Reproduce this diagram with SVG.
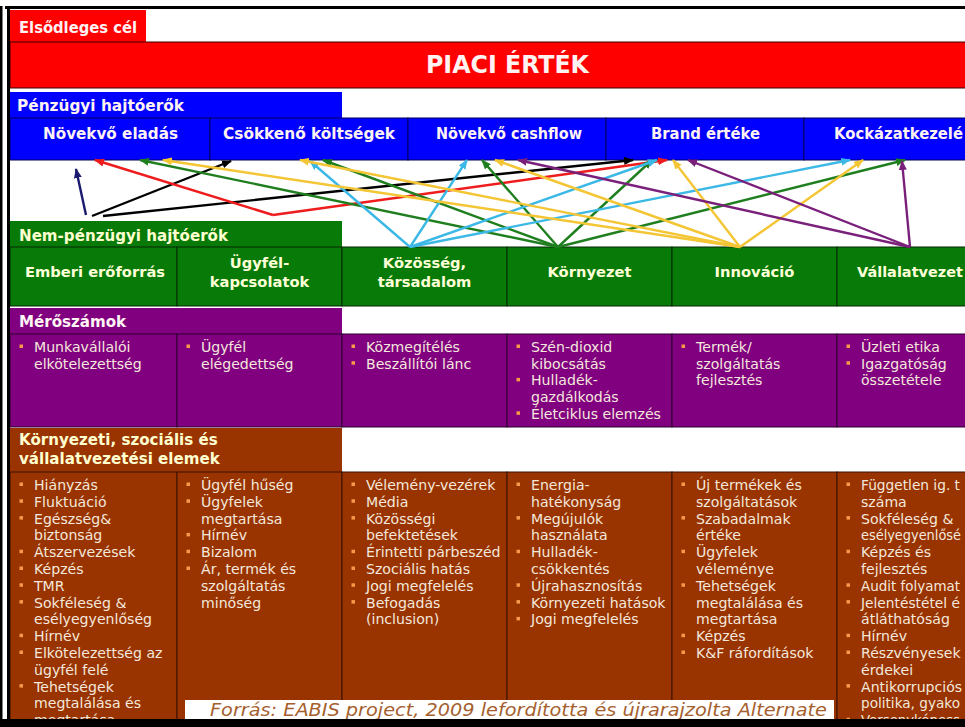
<svg xmlns="http://www.w3.org/2000/svg" width="965" height="727" viewBox="0 0 965 727">
<defs>
<style>
.cond{font-family:"DejaVu Sans Condensed","DejaVu Sans",sans-serif;font-weight:bold;fill:#FFF2F2}
.hdr{font-family:"DejaVu Sans",Verdana,sans-serif;font-weight:bold;font-size:15.1px;fill:#FFFFD0}
.cell{font-family:"DejaVu Sans",Verdana,sans-serif;font-weight:bold;font-size:14.7px;fill:#FFFFD8;text-anchor:middle}
.body{font-family:"DejaVu Sans",Verdana,sans-serif;font-size:14.1px;fill:#F4E8DC}
.bul{fill:#F59A4A}
.arr{fill:none;stroke-width:2.4}
.src{font-family:"DejaVu Sans",Verdana,sans-serif;font-style:italic;font-size:17px;fill:#A5602E}
</style>
<marker id="mk-navy" viewBox="0 0 10 8" refX="9" refY="4" markerWidth="10" markerHeight="8" markerUnits="userSpaceOnUse" orient="auto"><path d="M0,0 L10,4 L0,8 z" fill="#1A1A6E"/></marker>
<marker id="mk-black" viewBox="0 0 10 8" refX="9" refY="4" markerWidth="10" markerHeight="8" markerUnits="userSpaceOnUse" orient="auto"><path d="M0,0 L10,4 L0,8 z" fill="#000"/></marker>
<marker id="mk-red" viewBox="0 0 10 8" refX="9" refY="4" markerWidth="10" markerHeight="8" markerUnits="userSpaceOnUse" orient="auto"><path d="M0,0 L10,4 L0,8 z" fill="#EE1C1C"/></marker>
<marker id="mk-green" viewBox="0 0 10 8" refX="9" refY="4" markerWidth="10" markerHeight="8" markerUnits="userSpaceOnUse" orient="auto"><path d="M0,0 L10,4 L0,8 z" fill="#1F7F1F"/></marker>
<marker id="mk-cyan" viewBox="0 0 10 8" refX="9" refY="4" markerWidth="10" markerHeight="8" markerUnits="userSpaceOnUse" orient="auto"><path d="M0,0 L10,4 L0,8 z" fill="#3CB8E6"/></marker>
<marker id="mk-yellow" viewBox="0 0 10 8" refX="9" refY="4" markerWidth="10" markerHeight="8" markerUnits="userSpaceOnUse" orient="auto"><path d="M0,0 L10,4 L0,8 z" fill="#F4C534"/></marker>
<marker id="mk-purple" viewBox="0 0 10 8" refX="9" refY="4" markerWidth="10" markerHeight="8" markerUnits="userSpaceOnUse" orient="auto"><path d="M0,0 L10,4 L0,8 z" fill="#7A1F7A"/></marker>
</defs>

<rect x="0" y="0" width="965" height="727" fill="#FFFFFF"/>

<!-- Primary goal -->
<g id="primary-tab">
<rect x="10" y="10" width="136" height="32" fill="#FF0000"/>
<text class="cond" x="19" y="33" font-size="16" textLength="118" lengthAdjust="spacingAndGlyphs">Elsődleges cél</text>
</g>
<g id="piaci-ertek">
<rect x="10" y="42" width="956" height="46" fill="#FF0000" stroke="#3a0000" stroke-width="1"/>
<text class="cond" x="426" y="73" font-size="24" textLength="163" lengthAdjust="spacingAndGlyphs">PIACI ÉRTÉK</text>
</g>

<!-- Financial drivers -->
<g id="financial-tab">
<rect x="10" y="92" width="332" height="26" fill="#0000FF"/>
<text class="cond" x="17" y="111" font-size="16" textLength="167" lengthAdjust="spacingAndGlyphs">Pénzügyi hajtóerők</text>
</g>
<g id="fin-novekvo-eladas">
<rect x="10" y="118" width="200" height="42" fill="#0000FF" stroke="#00005A" stroke-width="1"/>
<text class="cond" x="43" y="139" font-size="16.5" textLength="135" lengthAdjust="spacingAndGlyphs">Növekvő eladás</text>
</g>
<g id="fin-csokkeno-koltsegek">
<rect x="210" y="118" width="198" height="42" fill="#0000FF" stroke="#00005A" stroke-width="1"/>
<text class="cond" x="223" y="139" font-size="16.5" textLength="172" lengthAdjust="spacingAndGlyphs">Csökkenő költségek</text>
</g>
<g id="fin-novekvo-cashflow">
<rect x="408" y="118" width="198" height="42" fill="#0000FF" stroke="#00005A" stroke-width="1"/>
<text class="cond" x="436" y="139" font-size="16.5" textLength="146" lengthAdjust="spacingAndGlyphs">Növekvő cashflow</text>
</g>
<g id="fin-brand-erteke">
<rect x="606" y="118" width="198" height="42" fill="#0000FF" stroke="#00005A" stroke-width="1"/>
<text class="cond" x="651" y="139" font-size="16.5" textLength="109" lengthAdjust="spacingAndGlyphs">Brand értéke</text>
</g>
<g id="fin-kockazatkezeles">
<rect x="804" y="118" width="162" height="42" fill="#0000FF" stroke="#00005A" stroke-width="1"/>
<text class="cond" x="834" y="139" font-size="16.5" textLength="129" lengthAdjust="spacingAndGlyphs">Kockázatkezelé</text>
</g>

<!-- Non-financial drivers -->
<g id="nonfinancial-tab">
<rect x="10" y="221" width="332" height="26" fill="#077A07"/>
<text class="hdr" x="19" y="241">Nem-pénzügyi hajtóerők</text>
</g>
<g id="nf-emberi-eroforras">
<rect x="10" y="247" width="167" height="59" fill="#077A07" stroke="#062806" stroke-width="1"/>
<text class="cell" x="95" y="277">Emberi erőforrás</text>
</g>
<g id="nf-ugyfelkapcsolatok">
<rect x="177" y="247" width="165" height="59" fill="#077A07" stroke="#062806" stroke-width="1"/>
<text class="cell" x="259.5" y="268">Ügyfél-</text>
<text class="cell" x="259.5" y="287">kapcsolatok</text>
</g>
<g id="nf-kozosseg">
<rect x="342" y="247" width="165" height="59" fill="#077A07" stroke="#062806" stroke-width="1"/>
<text class="cell" x="424.5" y="268">Közösség,</text>
<text class="cell" x="424.5" y="287">társadalom</text>
</g>
<g id="nf-kornyezet">
<rect x="507" y="247" width="165" height="59" fill="#077A07" stroke="#062806" stroke-width="1"/>
<text class="cell" x="589.5" y="277">Környezet</text>
</g>
<g id="nf-innovacio">
<rect x="672" y="247" width="165" height="59" fill="#077A07" stroke="#062806" stroke-width="1"/>
<text class="cell" x="754.5" y="277">Innováció</text>
</g>
<g id="nf-vallalatvezetes">
<rect x="837" y="247" width="129" height="59" fill="#077A07" stroke="#062806" stroke-width="1"/>
<text class="cell" x="857" y="277" style="text-anchor:start" textLength="106" lengthAdjust="spacingAndGlyphs">Vállalatvezet</text>
</g>

<!-- Metrics -->
<g id="metrics-tab">
<rect x="10" y="308" width="332" height="26" fill="#800080"/>
<text class="hdr" x="19" y="327" style="fill:#FFF4F4">Mérőszámok</text>
</g>
<g id="m-col1">
<rect x="10" y="334" width="167" height="93" fill="#800080" stroke="#2E002E" stroke-width="1"/>
<rect class="bul" x="19.5" y="344.5" width="3.5" height="3.5"/>
<text class="body"><tspan x="34" y="352">Munkavállalói</tspan><tspan x="34" y="368.7">elkötelezettség</tspan></text>
</g>
<g id="m-col2">
<rect x="177" y="334" width="165" height="93" fill="#800080" stroke="#2E002E" stroke-width="1"/>
<rect class="bul" x="186.5" y="344.5" width="3.5" height="3.5"/>
<text class="body"><tspan x="201" y="352">Ügyfél</tspan><tspan x="201" y="368.7">elégedettség</tspan></text>
</g>
<g id="m-col3">
<rect x="342" y="334" width="165" height="93" fill="#800080" stroke="#2E002E" stroke-width="1"/>
<rect class="bul" x="351.5" y="344.5" width="3.5" height="3.5"/>
<rect class="bul" x="351.5" y="361.2" width="3.5" height="3.5"/>
<text class="body"><tspan x="366" y="352">Közmegítélés</tspan><tspan x="366" y="368.7">Beszállítói lánc</tspan></text>
</g>
<g id="m-col4">
<rect x="507" y="334" width="165" height="93" fill="#800080" stroke="#2E002E" stroke-width="1"/>
<rect class="bul" x="516.5" y="344.5" width="3.5" height="3.5"/>
<rect class="bul" x="516.5" y="377.9" width="3.5" height="3.5"/>
<rect class="bul" x="516.5" y="411.3" width="3.5" height="3.5"/>
<text class="body"><tspan x="531" y="352">Szén-dioxid</tspan><tspan x="531" y="368.7">kibocsátás</tspan><tspan x="531" y="385.4">Hulladék-</tspan><tspan x="531" y="402.1">gazdálkodás</tspan><tspan x="531" y="418.8">Életciklus elemzés</tspan></text>
</g>
<g id="m-col5">
<rect x="672" y="334" width="165" height="93" fill="#800080" stroke="#2E002E" stroke-width="1"/>
<rect class="bul" x="681.5" y="344.5" width="3.5" height="3.5"/>
<text class="body"><tspan x="696" y="352">Termék/</tspan><tspan x="696" y="368.7">szolgáltatás</tspan><tspan x="696" y="385.4">fejlesztés</tspan></text>
</g>
<g id="m-col6">
<rect x="837" y="334" width="129" height="93" fill="#800080" stroke="#2E002E" stroke-width="1"/>
<rect class="bul" x="846.5" y="344.5" width="3.5" height="3.5"/>
<rect class="bul" x="846.5" y="361.2" width="3.5" height="3.5"/>
<text class="body"><tspan x="861" y="352">Üzleti etika</tspan><tspan x="861" y="368.7">Igazgatóság</tspan><tspan x="861" y="385.4">összetétele</tspan></text>
</g>

<!-- ESG elements -->
<g id="esg-tab">
<rect x="10" y="428" width="332" height="44" fill="#993300"/>
<text class="hdr" x="19" y="445">Környezeti, szociális és</text>
<text class="hdr" x="19" y="464">vállalatvezetési elemek</text>
</g>
<g id="e-col1">
<rect x="10" y="472" width="167" height="250" fill="#993300" stroke="#3A1200" stroke-width="1"/>
<g class="bul">
<rect x="19.5" y="482.5" width="3.5" height="3.5"/><rect x="19.5" y="499.3" width="3.5" height="3.5"/><rect x="19.5" y="516.1" width="3.5" height="3.5"/><rect x="19.5" y="549.7" width="3.5" height="3.5"/><rect x="19.5" y="566.5" width="3.5" height="3.5"/><rect x="19.5" y="583.3" width="3.5" height="3.5"/><rect x="19.5" y="600.1" width="3.5" height="3.5"/><rect x="19.5" y="633.7" width="3.5" height="3.5"/><rect x="19.5" y="650.5" width="3.5" height="3.5"/><rect x="19.5" y="684.1" width="3.5" height="3.5"/>
</g>
<text class="body"><tspan x="34" y="490">Hiányzás</tspan><tspan x="34" y="506.8">Fluktuáció</tspan><tspan x="34" y="523.6">Egészség&amp;</tspan><tspan x="34" y="540.4">biztonság</tspan><tspan x="34" y="557.2">Átszervezések</tspan><tspan x="34" y="574">Képzés</tspan><tspan x="34" y="590.8">TMR</tspan><tspan x="34" y="607.6">Sokféleség &amp;</tspan><tspan x="34" y="624.4">esélyegyenlőség</tspan><tspan x="34" y="641.2">Hírnév</tspan><tspan x="34" y="658">Elkötelezettség az</tspan><tspan x="34" y="674.8">ügyfél felé</tspan><tspan x="34" y="691.6">Tehetségek</tspan><tspan x="34" y="708.4">megtalálása és</tspan><tspan x="34" y="725.2">megtartása</tspan></text>
</g>
<g id="e-col2">
<rect x="177" y="472" width="165" height="250" fill="#993300" stroke="#3A1200" stroke-width="1"/>
<g class="bul">
<rect x="186.5" y="482.5" width="3.5" height="3.5"/><rect x="186.5" y="499.3" width="3.5" height="3.5"/><rect x="186.5" y="532.9" width="3.5" height="3.5"/><rect x="186.5" y="549.7" width="3.5" height="3.5"/><rect x="186.5" y="566.5" width="3.5" height="3.5"/>
</g>
<text class="body"><tspan x="201" y="490">Ügyfél hűség</tspan><tspan x="201" y="506.8">Ügyfelek</tspan><tspan x="201" y="523.6">megtartása</tspan><tspan x="201" y="540.4">Hírnév</tspan><tspan x="201" y="557.2">Bizalom</tspan><tspan x="201" y="574">Ár, termék és</tspan><tspan x="201" y="590.8">szolgáltatás</tspan><tspan x="201" y="607.6">minőség</tspan></text>
</g>
<g id="e-col3">
<rect x="342" y="472" width="165" height="250" fill="#993300" stroke="#3A1200" stroke-width="1"/>
<g class="bul">
<rect x="351.5" y="482.5" width="3.5" height="3.5"/><rect x="351.5" y="499.3" width="3.5" height="3.5"/><rect x="351.5" y="516.1" width="3.5" height="3.5"/><rect x="351.5" y="549.7" width="3.5" height="3.5"/><rect x="351.5" y="566.5" width="3.5" height="3.5"/><rect x="351.5" y="583.3" width="3.5" height="3.5"/><rect x="351.5" y="600.1" width="3.5" height="3.5"/>
</g>
<text class="body"><tspan x="366" y="490">Vélemény-vezérek</tspan><tspan x="366" y="506.8">Média</tspan><tspan x="366" y="523.6">Közösségi</tspan><tspan x="366" y="540.4">befektetések</tspan><tspan x="366" y="557.2">Érintetti párbeszéd</tspan><tspan x="366" y="574">Szociális hatás</tspan><tspan x="366" y="590.8">Jogi megfelelés</tspan><tspan x="366" y="607.6">Befogadás</tspan><tspan x="366" y="624.4">(inclusion)</tspan></text>
</g>
<g id="e-col4">
<rect x="507" y="472" width="165" height="250" fill="#993300" stroke="#3A1200" stroke-width="1"/>
<g class="bul">
<rect x="516.5" y="482.5" width="3.5" height="3.5"/><rect x="516.5" y="516.1" width="3.5" height="3.5"/><rect x="516.5" y="549.7" width="3.5" height="3.5"/><rect x="516.5" y="583.3" width="3.5" height="3.5"/><rect x="516.5" y="600.1" width="3.5" height="3.5"/><rect x="516.5" y="616.9" width="3.5" height="3.5"/>
</g>
<text class="body"><tspan x="531" y="490">Energia-</tspan><tspan x="531" y="506.8">hatékonyság</tspan><tspan x="531" y="523.6">Megújulók</tspan><tspan x="531" y="540.4">használata</tspan><tspan x="531" y="557.2">Hulladék-</tspan><tspan x="531" y="574">csökkentés</tspan><tspan x="531" y="590.8">Újrahasznosítás</tspan><tspan x="531" y="607.6">Környezeti hatások</tspan><tspan x="531" y="624.4">Jogi megfelelés</tspan></text>
</g>
<g id="e-col5">
<rect x="672" y="472" width="165" height="250" fill="#993300" stroke="#3A1200" stroke-width="1"/>
<g class="bul">
<rect x="681.5" y="482.5" width="3.5" height="3.5"/><rect x="681.5" y="516.1" width="3.5" height="3.5"/><rect x="681.5" y="549.7" width="3.5" height="3.5"/><rect x="681.5" y="583.3" width="3.5" height="3.5"/><rect x="681.5" y="633.7" width="3.5" height="3.5"/><rect x="681.5" y="650.5" width="3.5" height="3.5"/>
</g>
<text class="body"><tspan x="696" y="490">Új termékek és</tspan><tspan x="696" y="506.8">szolgáltatások</tspan><tspan x="696" y="523.6">Szabadalmak</tspan><tspan x="696" y="540.4">értéke</tspan><tspan x="696" y="557.2">Ügyfelek</tspan><tspan x="696" y="574">véleménye</tspan><tspan x="696" y="590.8">Tehetségek</tspan><tspan x="696" y="607.6">megtalálása és</tspan><tspan x="696" y="624.4">megtartása</tspan><tspan x="696" y="641.2">Képzés</tspan><tspan x="696" y="658">K&amp;F ráfordítások</tspan></text>
</g>
<g id="e-col6">
<rect x="837" y="472" width="129" height="250" fill="#993300" stroke="#3A1200" stroke-width="1"/>
<g class="bul">
<rect x="846.5" y="482.5" width="3.5" height="3.5"/><rect x="846.5" y="516.1" width="3.5" height="3.5"/><rect x="846.5" y="549.7" width="3.5" height="3.5"/><rect x="846.5" y="583.3" width="3.5" height="3.5"/><rect x="846.5" y="600.1" width="3.5" height="3.5"/><rect x="846.5" y="633.7" width="3.5" height="3.5"/><rect x="846.5" y="650.5" width="3.5" height="3.5"/><rect x="846.5" y="684.1" width="3.5" height="3.5"/><rect x="846.5" y="717.7" width="3.5" height="3.5"/>
</g>
<text class="body" x="861" y="490" textLength="99" lengthAdjust="spacingAndGlyphs">Független ig. t</text>
<text class="body" x="861" y="506.8">száma</text>
<text class="body" x="861" y="523.6">Sokféleség &amp;</text>
<text class="body" x="861" y="540.4" textLength="100" lengthAdjust="spacingAndGlyphs">esélyegyenlősé</text>
<text class="body" x="861" y="557.2">Képzés és</text>
<text class="body" x="861" y="574">fejlesztés</text>
<text class="body" x="861" y="590.8" textLength="99" lengthAdjust="spacingAndGlyphs">Audit folyamat</text>
<text class="body" x="861" y="607.6" textLength="99" lengthAdjust="spacingAndGlyphs">Jelentéstétel é</text>
<text class="body" x="861" y="624.4">átláthatóság</text>
<text class="body" x="861" y="641.2">Hírnév</text>
<text class="body" x="861" y="658">Részvényesek</text>
<text class="body" x="861" y="674.8">érdekei</text>
<text class="body" x="861" y="691.6">Antikorrupciós</text>
<text class="body" x="861" y="708.4" textLength="99" lengthAdjust="spacingAndGlyphs">politika, gyako</text>
<text class="body" x="861" y="725.2" textLength="99" lengthAdjust="spacingAndGlyphs">Versenyképess</text>
</g>

<!-- Source note -->
<g id="source">
<rect x="185" y="700" width="649" height="22" fill="#FFFFFF"/>
<text class="src" x="210" y="716" textLength="617" lengthAdjust="spacingAndGlyphs">Forrás: EABIS project, 2009 lefordította és újrarajzolta Alternate</text>
</g>

<!-- Connectors -->
<g id="connectors">
<path class="arr" stroke="#1A1A6E" marker-end="url(#mk-navy)" d="M86,215 L76,169"/>
<path class="arr" stroke="#000" marker-end="url(#mk-black)" d="M92,216 L231,161"/>
<path class="arr" stroke="#000" marker-end="url(#mk-black)" d="M103,216 L633,160"/>
<path class="arr" stroke="#EE1C1C" marker-end="url(#mk-red)" d="M273,215 L95,160"/>
<path class="arr" stroke="#EE1C1C" marker-end="url(#mk-red)" d="M273,215 L667,160"/>
<path class="arr" stroke="#1F7F1F" marker-end="url(#mk-green)" d="M558,247 L140,160"/>
<path class="arr" stroke="#1F7F1F" marker-end="url(#mk-green)" d="M558,247 L323,160"/>
<path class="arr" stroke="#1F7F1F" marker-end="url(#mk-green)" d="M558,247 L482,160"/>
<path class="arr" stroke="#1F7F1F" marker-end="url(#mk-green)" d="M558,247 L652,160"/>
<path class="arr" stroke="#1F7F1F" marker-end="url(#mk-green)" d="M558,247 L905,160"/>
<path class="arr" stroke="#3CB8E6" marker-end="url(#mk-cyan)" d="M410,247 L310,161"/>
<path class="arr" stroke="#3CB8E6" marker-end="url(#mk-cyan)" d="M410,247 L467,160"/>
<path class="arr" stroke="#3CB8E6" marker-end="url(#mk-cyan)" d="M410,247 L657,160"/>
<path class="arr" stroke="#3CB8E6" marker-end="url(#mk-cyan)" d="M410,247 L850,160"/>
<path class="arr" stroke="#F4C534" marker-end="url(#mk-yellow)" d="M740,247 L163,160"/>
<path class="arr" stroke="#F4C534" marker-end="url(#mk-yellow)" d="M740,247 L300,160"/>
<path class="arr" stroke="#F4C534" marker-end="url(#mk-yellow)" d="M740,247 L495,160"/>
<path class="arr" stroke="#F4C534" marker-end="url(#mk-yellow)" d="M740,247 L673,160"/>
<path class="arr" stroke="#F4C534" marker-end="url(#mk-yellow)" d="M740,247 L863,160"/>
<path class="arr" stroke="#7A1F7A" marker-end="url(#mk-purple)" d="M910,247 L518,160"/>
<path class="arr" stroke="#7A1F7A" marker-end="url(#mk-purple)" d="M910,247 L688,160"/>
<path class="arr" stroke="#7A1F7A" marker-end="url(#mk-purple)" d="M910,247 L902,161"/>
</g>

<!-- Frame -->
<g id="frame" fill="#000">
<rect x="5" y="6" width="960" height="3"/>
<rect x="0" y="6" width="2.5" height="721"/>
<rect x="7" y="6" width="3" height="721"/>
<rect x="0" y="719" width="965" height="8"/>
</g>
</svg>
